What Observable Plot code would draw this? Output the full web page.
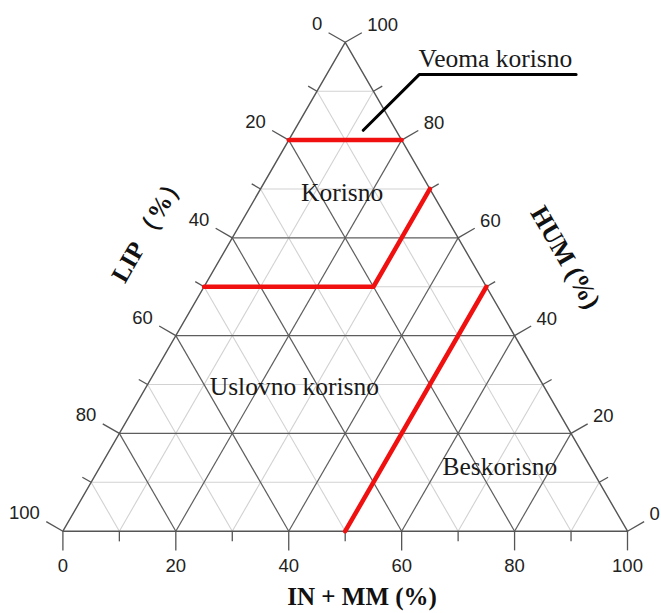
<!DOCTYPE html>
<html><head><meta charset="utf-8">
<script src="https://cdn.jsdelivr.net/npm/d3@7"></script>
<script src="https://cdn.jsdelivr.net/npm/@observablehq/plot@0.6"></script>
<style>body{margin:0;background:#fff}</style>
</head><body><div id="chart"></div>
<script>
// ---- data ----
const gridValues = [10, 20, 30, 40, 50, 60, 70, 80, 90];
const tickValues = [0, 10, 20, 30, 40, 50, 60, 70, 80, 90, 100];
const labelValues = [0, 20, 40, 60, 80, 100];
const bottomTitle = "IN + MM (%)";
const leftTitle = "LIP （%）";
const rightTitle = "HUM (%)";
// red class boundaries, ternary points (IN+MM, HUM)
const boundaryId  = ["A", "A", "B", "B", "B", "C", "C"];
const boundaryIN  = [0, 20, 0, 30, 30, 50, 50];
const boundaryHUM = [80, 80, 50, 50, 70, 0, 50];
// class names and their ternary anchor (IN+MM, HUM)
const regionNames = ["Veoma korisno", "Korisno", "Uslovno korisno", "Beskorisno"];
const regionIN  = [28.3, 14.8, 26.2, 70.8];
const regionHUM = [96.6, 69.3, 29.6, 13.2];
// leader line for "Veoma korisno"
const calloutIN  = [44.2, 16.4, 12.2];
const calloutHUM = [93.4, 93.4, 82.0];

// ---- helpers ----
const S3 = Math.sqrt(3) / 2;
const tx = (a, h) => a + h / 2;
const ty = (h) => h * S3;
const MAJ = 3.4, MIN = 1.8;

const isMajor = v => v % 20 === 0;
const gridLines = [];
for (const t of gridValues) {
  const major = isMajor(t);
  gridLines.push({major, x1: tx(0, t), y1: ty(t), x2: tx(100 - t, t), y2: ty(t)});
  gridLines.push({major, x1: tx(t, 0), y1: 0, x2: tx(t, 100 - t), y2: ty(100 - t)});
  gridLines.push({major, x1: tx(100 - t, 0), y1: 0, x2: tx(0, 100 - t), y2: ty(100 - t)});
}
const outline = [[0, 0], [100, 0], [0, 100], [0, 0]].map(([a, h]) => ({x: tx(a, h), y: ty(h)}));

const ticks = [];
for (const v of tickValues) {
  const L = isMajor(v) ? MAJ : MIN;
  ticks.push({x1: tx(v, 0), y1: 0, x2: tx(v, 0), y2: -L});
  const lx = tx(0, 100 - v), ly = ty(100 - v);
  ticks.push({x1: lx, y1: ly, x2: lx - S3 * L, y2: ly + 0.5 * L});
  const rx = tx(100 - v, v), ry = ty(v);
  ticks.push({x1: rx, y1: ry, x2: rx + S3 * L, y2: ry + 0.5 * L});
}
const bottomLabels = labelValues.map(v => ({x: tx(v, 0), y: 0, t: String(v)}));
const leftLabels = labelValues.map(v => ({x: tx(0, 100 - v), y: ty(100 - v), t: String(v)}));
const rightLabels = labelValues.map(v => ({x: tx(100 - v, v), y: ty(v), t: String(v)}));

const boundary = boundaryId.map((id, i) => ({id, x: tx(boundaryIN[i], boundaryHUM[i]), y: ty(boundaryHUM[i])}));
const regions = regionNames.map((n, i) => ({n, x: tx(regionIN[i], regionHUM[i]), y: ty(regionHUM[i])}));
const callout = calloutIN.map((a, i) => ({x: tx(a, calloutHUM[i]), y: ty(calloutHUM[i])}));

const tickFont = "Liberation Sans, Arial, sans-serif";
const serif = "Liberation Serif, Times New Roman, serif";
const TF = 18.5;

const chart = Plot.plot({
  width: 661,
  height: 613,
  marginLeft: 62.4,
  marginRight: 34,
  marginTop: 41.8,
  marginBottom: 82.3,
  x: {domain: [0, 100], axis: null},
  y: {domain: [0, 100 * S3], axis: null},
  style: {background: "#fff"},
  marks: [
    Plot.link(gridLines.filter(d => !d.major), {x1: "x1", y1: "y1", x2: "x2", y2: "y2", stroke: "#d2d2d2", strokeWidth: 1.1}),
    Plot.link(gridLines.filter(d => d.major), {x1: "x1", y1: "y1", x2: "x2", y2: "y2", stroke: "#5e5e5e", strokeWidth: 1.2}),
    Plot.line(outline, {x: "x", y: "y", stroke: "#555", strokeWidth: 1.4}),
    Plot.link(ticks, {x1: "x1", y1: "y1", x2: "x2", y2: "y2", stroke: "#555", strokeWidth: 1.3}),
    Plot.text(bottomLabels, {x: "x", y: "y", text: "t", dy: 35, lineAnchor: "middle", fontSize: TF, fontFamily: tickFont, fill: "#222"}),
    Plot.text(leftLabels, {x: "x", y: "y", text: "t", dx: -23, dy: -18, textAnchor: "end", lineAnchor: "middle", fontSize: TF, fontFamily: tickFont, fill: "#222"}),
    Plot.text(rightLabels, {x: "x", y: "y", text: "t", dx: 22, dy: -17, textAnchor: "start", lineAnchor: "middle", fontSize: TF, fontFamily: tickFont, fill: "#222"}),
    Plot.line(boundary, {x: "x", y: "y", z: "id", stroke: "#f01010", strokeWidth: 4.5}),
    Plot.line(callout, {x: "x", y: "y", stroke: "#000", strokeWidth: 3}),
    Plot.text(regions, {x: "x", y: "y", text: "n", lineAnchor: "middle", fontSize: 25.5, fontFamily: serif, fill: "#1a1a1a"}),
    Plot.text([{x: tx(53, 0), y: 0}], {x: "x", y: "y", text: [bottomTitle], dy: 66, lineAnchor: "middle", fontSize: 25, fontWeight: "bold", fontFamily: serif, fill: "#111"}),
    Plot.text([{x: tx(-15.9, 62.1), y: ty(62.1)}], {x: "x", y: "y", text: [leftTitle], rotate: -60, lineAnchor: "middle", fontSize: 25, fontWeight: "bold", fontFamily: serif, fill: "#111"}),
    Plot.text([{x: tx(61, 56), y: ty(56)}], {x: "x", y: "y", text: [rightTitle], rotate: 60, lineAnchor: "middle", fontSize: 26, fontWeight: "bold", fontFamily: serif, fill: "#111"})
  ]
});
document.getElementById("chart").appendChild(chart);
</script>
</body></html>
